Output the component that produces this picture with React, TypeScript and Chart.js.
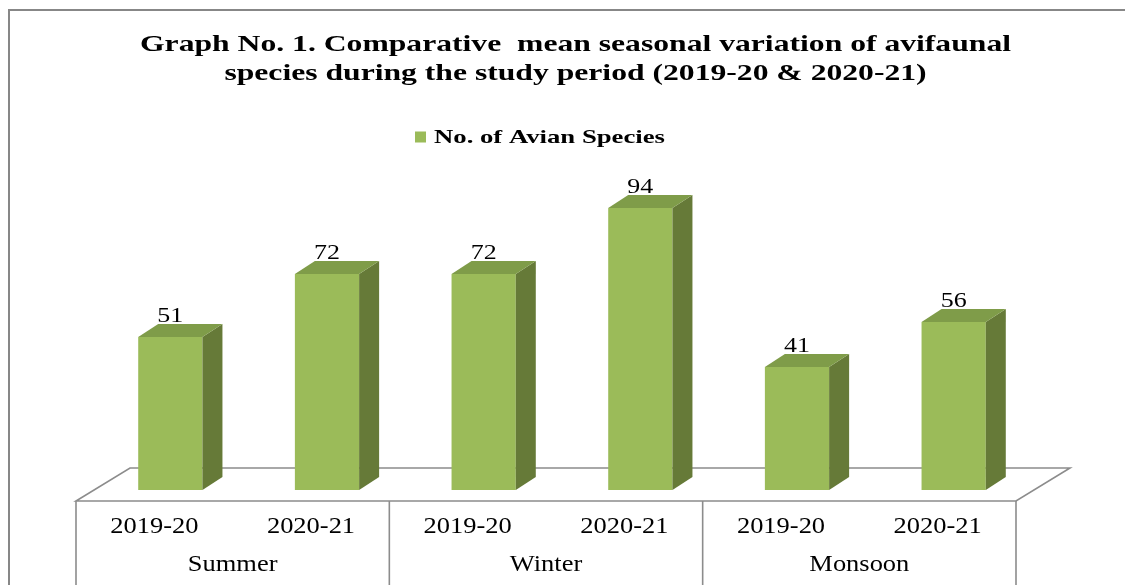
import React, { useEffect, useRef } from "react";
import { Chart, registerables } from "chart.js";

Chart.register(...registerables);

// ---- data ----
const seasons = ["Summer", "Winter", "Monsoon"];
const years = ["2019-20", "2020-21"];
const speciesCounts = [51, 72, 72, 94, 41, 56];
const seriesName = "No. of Avian Species";
const titleLines = [
  "Graph No. 1. Comparative  mean seasonal variation of avifaunal",
  "species during the study period (2019-20 & 2020-21)",
];
const categoryLabels = seasons.flatMap((s) => years.map((y) => `${s} ${y}`));

// ---- styles ----
const SERIF = '"Liberation Serif", "Times New Roman", serif';
const FRONT = "#9BBB59";
const SIDE = "#667A38";
const TOP = "#7F9C49";
const LINE = "#8C8C8C";
const SHIFT = 16;
const BAR_DX = 20;
const BAR_DY = 13;
const FLOOR_DX = 54;
const FLOOR_DY = 33;
const FLOOR_DROP = 11;

function stretchText(
  ctx: CanvasRenderingContext2D,
  text: string,
  x: number,
  y: number,
  font: string,
  sx: number,
  align: CanvasTextAlign = "center"
) {
  ctx.save();
  ctx.font = font;
  ctx.textAlign = align;
  ctx.textBaseline = "alphabetic";
  ctx.fillStyle = "#000";
  ctx.translate(x, y);
  ctx.scale(sx, 1);
  ctx.fillText(text, 0, 0);
  ctx.restore();
}

function fitScale(ctx: CanvasRenderingContext2D, text: string, font: string, width: number) {
  ctx.save();
  ctx.font = font;
  const w = ctx.measureText(text).width;
  ctx.restore();
  return width / w;
}

const threeD = {
  id: "threeD",
  beforeDraw(chart: any) {
    const ctx: CanvasRenderingContext2D = chart.ctx;
    ctx.save();
    ctx.fillStyle = "#fff";
    ctx.fillRect(0, 0, chart.width, chart.height);
    // frame
    ctx.strokeStyle = "#878787";
    ctx.lineWidth = 2;
    ctx.beginPath();
    ctx.moveTo(9, chart.height + 5);
    ctx.lineTo(9, 10);
    ctx.lineTo(chart.width + 5, 10);
    ctx.stroke();
    ctx.restore();

    // title
    const tFont = `bold 23px ${SERIF}`;
    const tsx = fitScale(ctx, titleLines[0], tFont, 871);
    stretchText(ctx, titleLines[0], 575.5, 51, tFont, tsx);
    stretchText(ctx, titleLines[1], 575.5, 80, tFont, tsx);

    // legend
    ctx.save();
    ctx.fillStyle = FRONT;
    ctx.fillRect(415, 131.5, 11, 11);
    ctx.restore();
    const lFont = `bold 19px ${SERIF}`;
    const lsx = fitScale(ctx, seriesName, lFont, 231);
    stretchText(ctx, seriesName, 434, 143, lFont, lsx, "left");
  },
  beforeDatasetsDraw(chart: any) {
    const ctx: CanvasRenderingContext2D = chart.ctx;
    const xs = chart.scales.x;
    const ys = chart.scales.y;
    const area = chart.chartArea;
    const y0 = ys.getPixelForValue(0) + FLOOR_DROP;
    const left = xs.getPixelForValue(-0.5);
    const right = xs.getPixelForValue(categoryLabels.length - 0.5);

    ctx.save();
    ctx.strokeStyle = LINE;
    ctx.lineWidth = 1.6;
    ctx.fillStyle = "#fff";
    ctx.beginPath();
    ctx.moveTo(left, y0);
    ctx.lineTo(right, y0);
    ctx.lineTo(right + FLOOR_DX, y0 - FLOOR_DY);
    ctx.lineTo(left + FLOOR_DX, y0 - FLOOR_DY);
    ctx.closePath();
    ctx.fill();
    ctx.stroke();

    // group dividers
    ctx.beginPath();
    for (let g = 0; g <= seasons.length; g++) {
      const x = xs.getPixelForValue(g * years.length - 0.5);
      ctx.moveTo(x, y0);
      ctx.lineTo(x, chart.height + 5);
    }
    ctx.stroke();
    ctx.restore();

    const labFont = `23px ${SERIF}`;
    categoryLabels.forEach((_, i) => {
      stretchText(ctx, years[i % years.length], xs.getPixelForValue(i), 533, labFont, 1.15);
    });
    seasons.forEach((s, g) => {
      const x = xs.getPixelForValue(g * years.length + (years.length - 1) / 2);
      stretchText(ctx, s, x, 571, labFont, 1.15);
    });

    ctx.save();
    ctx.translate(SHIFT, 0);
  },
  afterDatasetsDraw(chart: any) {
    const ctx: CanvasRenderingContext2D = chart.ctx;
    ctx.restore();
    const meta = chart.getDatasetMeta(0);
    meta.data.forEach((bar: any, i: number) => {
      const p = bar.getProps(["x", "y", "base", "width"], true);
      const xl = p.x + SHIFT - p.width / 2;
      const xr = p.x + SHIFT + p.width / 2;
      const yt = p.y;
      const yb = p.base;
      ctx.save();
      ctx.fillStyle = SIDE;
      ctx.beginPath();
      ctx.moveTo(xr, yt);
      ctx.lineTo(xr + BAR_DX, yt - BAR_DY);
      ctx.lineTo(xr + BAR_DX, yb - BAR_DY);
      ctx.lineTo(xr, yb);
      ctx.closePath();
      ctx.fill();
      ctx.fillStyle = TOP;
      ctx.beginPath();
      ctx.moveTo(xl, yt);
      ctx.lineTo(xr, yt);
      ctx.lineTo(xr + BAR_DX, yt - BAR_DY);
      ctx.lineTo(xl + BAR_DX, yt - BAR_DY);
      ctx.closePath();
      ctx.fill();
      ctx.restore();
      stretchText(ctx, String(speciesCounts[i]), p.x + SHIFT, yt - 15, `22px ${SERIF}`, 1.18);
    });
  },
};

export default function App() {
  const ref = useRef<HTMLCanvasElement>(null);
  useEffect(() => {
    if (!ref.current) return;
    const chart = new Chart(ref.current, {
      type: "bar",
      data: {
        labels: categoryLabels,
        datasets: [
          {
            label: seriesName,
            data: speciesCounts,
            backgroundColor: FRONT,
            borderWidth: 0,
            barPercentage: 0.41,
            categoryPercentage: 1,
            clip: false as any,
          },
        ],
      },
      options: {
        animation: false,
        responsive: true,
        maintainAspectRatio: false,
        devicePixelRatio: 1,
        layout: { padding: { top: 190, bottom: 95, left: 76, right: 109 } },
        plugins: {
          legend: { display: false },
          title: { display: false },
          tooltip: { enabled: false },
        },
        scales: {
          x: { display: false },
          y: { display: false, min: 0, max: 100 },
        },
      },
      plugins: [threeD],
    });
    return () => chart.destroy();
  }, []);
  return (
    <div style={{ position: "fixed", left: 0, top: 0, width: 1125, height: 585, background: "#fff" }}>
      <canvas ref={ref} />
    </div>
  );
}
